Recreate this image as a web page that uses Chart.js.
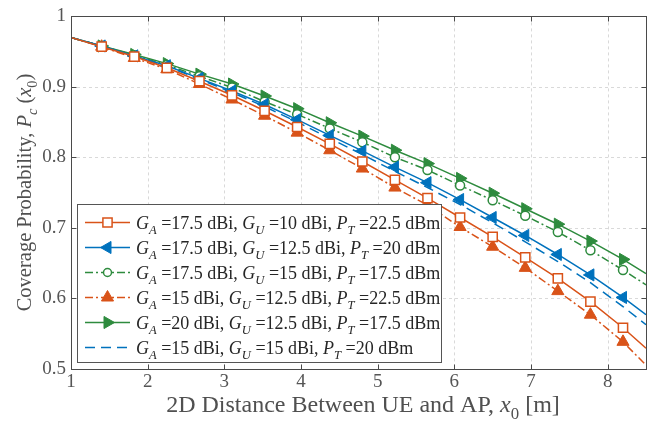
<!DOCTYPE html>
<html>
<head>
<meta charset="utf-8">
<script src="https://cdn.jsdelivr.net/npm/chart.js@4.4.0/dist/chart.umd.min.js"></script>
<style>
html,body{margin:0;padding:0;background:#fff;}
#wrap{width:657px;height:424px;}
</style>
</head>
<body>
<div id="wrap"><canvas id="myChart" width="657" height="424"></canvas></div>
<script>
// distance x0 [m]
var xDist = [1, 1.4, 1.825, 2.25, 2.675, 3.1, 3.525, 3.95, 4.375, 4.8, 5.225, 5.65, 6.075, 6.5, 6.925, 7.35, 7.775, 8.2, 8.5];

// coverage probability, one array per curve
var covA175U10P225 = [0.97, 0.957, 0.943, 0.927, 0.908, 0.888, 0.866, 0.843, 0.819, 0.794, 0.768, 0.742, 0.7145, 0.687, 0.658, 0.628, 0.595, 0.558, 0.529];
var covA175U125P20 = [0.97, 0.958, 0.944, 0.930, 0.912, 0.894, 0.875, 0.8535, 0.831, 0.809, 0.786, 0.764, 0.740, 0.7145, 0.689, 0.662, 0.633, 0.601, 0.5765];
var covA175U15P175 = [0.97, 0.958, 0.945, 0.931, 0.915, 0.899, 0.879, 0.861, 0.841, 0.8215, 0.800, 0.782, 0.760, 0.739, 0.717, 0.694, 0.668, 0.640, 0.619];
var covA15U125P225 = [0.97, 0.957, 0.941, 0.925, 0.904, 0.882, 0.859, 0.835, 0.810, 0.784, 0.757, 0.732, 0.701, 0.673, 0.643, 0.610, 0.5765, 0.538, 0.505];
var covA20U125P175 = [0.97, 0.958, 0.946, 0.933, 0.918, 0.904, 0.887, 0.869, 0.849, 0.830, 0.810, 0.791, 0.770, 0.749, 0.727, 0.705, 0.681, 0.655, 0.635];
var covA15U15P20 = [0.97, 0.958, 0.944, 0.929, 0.911, 0.892, 0.872, 0.850, 0.827, 0.804, 0.780, 0.757, 0.733, 0.707, 0.680, 0.652, 0.622, 0.588, 0.5624];

// legend parameters
var gainAP = ['17.5', '17.5', '17.5', '15', '20', '15'];
var gainUE = ['10', '12.5', '15', '12.5', '12.5', '15'];
var powerT = ['22.5', '20', '17.5', '22.5', '17.5', '20'];

// ticks
var xTicks = [1, 2, 3, 4, 5, 6, 7, 8];
var yTicks = [0.5, 0.6, 0.7, 0.8, 0.9, 1];

var RED = '#D95319', BLUE = '#0072BD', GREEN = '#2E8B3E';
var FONT = '"Liberation Serif", "DejaVu Serif", serif';

function pts(ys) {
    return ys.map(function (y, i) { return { x: xDist[i], y: y }; });
}
// markers everywhere but the two end points
function marks(r) {
    return xDist.map(function (x, i) { return (i == 0 || i == xDist.length - 1) ? 0 : r; });
}

function drawRich(ctx, segs, x, y, size, doDraw) {
    segs.forEach(function (s) {
        var sub = s[1].indexOf('s') >= 0, it = s[1].indexOf('i') >= 0;
        var fs = sub ? size * 0.7 : size;
        ctx.font = (it ? 'italic ' : '') + fs + 'px ' + FONT;
        if (doDraw) ctx.fillText(s[0], x, y + (sub ? size * 0.28 : 0));
        x += ctx.measureText(s[0]).width;
    });
    return x;
}

function legendSegs(i) {
    return [['G', 'i'], ['A', 'is'], [' =' + gainAP[i] + ' dBi, ', 'n'],
            ['G', 'i'], ['U', 'is'], [' =' + gainUE[i] + ' dBi, ', 'n'],
            ['P', 'i'], ['T', 'is'], [' =' + powerT[i] + ' dBm', 'n']];
}

var framePlugin = {
    id: 'frame',
    beforeDatasetsDraw: function (chart) {
        var ctx = chart.ctx, a = chart.chartArea, sx = chart.scales.x, sy = chart.scales.y;
        ctx.save();
        ctx.strokeStyle = '#d9d9d9';
        ctx.lineWidth = 1;
        ctx.setLineDash([3, 3]);
        xTicks.forEach(function (v) {
            if (v <= 1) return;
            var p = Math.round(sx.getPixelForValue(v)) + 0.5;
            ctx.beginPath(); ctx.moveTo(p, a.top); ctx.lineTo(p, a.bottom); ctx.stroke();
        });
        yTicks.forEach(function (v) {
            if (v <= 0.5 || v >= 1) return;
            var p = Math.round(sy.getPixelForValue(v)) + 0.5;
            ctx.beginPath(); ctx.moveTo(a.left, p); ctx.lineTo(a.right, p); ctx.stroke();
        });
        ctx.restore();
    },
    afterDatasetsDraw: function (chart) {
        var ctx = chart.ctx, a = chart.chartArea, sx = chart.scales.x, sy = chart.scales.y;
        ctx.save();
        ctx.strokeStyle = '#4a4a4a';
        ctx.lineWidth = 1;
        var L = Math.round(a.left) + 0.5, R = Math.round(a.right) + 0.5;
        var T = Math.round(a.top) + 0.5, B = Math.round(a.bottom) + 0.5;
        ctx.strokeRect(L, T, R - L, B - T);
        ctx.beginPath();
        xTicks.forEach(function (v) {
            var p = Math.round(sx.getPixelForValue(v)) + 0.5;
            ctx.moveTo(p, B); ctx.lineTo(p, B - 5);
            ctx.moveTo(p, T); ctx.lineTo(p, T + 5);
        });
        yTicks.forEach(function (v) {
            var p = Math.round(sy.getPixelForValue(v)) + 0.5;
            ctx.moveTo(L, p); ctx.lineTo(L + 5, p);
            ctx.moveTo(R, p); ctx.lineTo(R - 5, p);
        });
        ctx.stroke();
        ctx.restore();
    },
    afterDraw: function (chart) {
        var ctx = chart.ctx, a = chart.chartArea;
        ctx.save();
        ctx.fillStyle = '#505050';
        ctx.textBaseline = 'alphabetic';
        // x title
        var xt = [['2D Distance Between UE and AP, ', 'n'], ['x', 'i'], ['0', 's'], [' [m]', 'n']];
        var w = drawRich(ctx, xt, 0, 0, 24, false);
        drawRich(ctx, xt, 363 - w / 2, 412, 24, true);
        // y title
        var yt = [['Coverage Probability, ', 'n'], ['P', 'i'], ['c', 'is'], [' (', 'n'], ['x', 'i'], ['0', 's'], [')', 'n']];
        w = drawRich(ctx, yt, 0, 0, 20.5, false);
        ctx.translate(31, (a.top + a.bottom) / 2);
        ctx.rotate(-Math.PI / 2);
        drawRich(ctx, yt, -w / 2, 0, 20.5, true);
        ctx.restore();

        // legend
        ctx.save();
        var bx = 77.5, by = 204.5, bw = 364, bh = 158, rowH = 25;
        ctx.fillStyle = '#fff';
        ctx.fillRect(bx, by, bw, bh);
        ctx.strokeStyle = '#555';
        ctx.lineWidth = 1;
        ctx.strokeRect(bx, by, bw, bh);
        chart.data.datasets.forEach(function (ds, i) {
            var y = by + 18 + i * rowH;
            ctx.strokeStyle = ds.borderColor;
            ctx.lineWidth = ds.borderWidth;
            ctx.setLineDash(ds.borderDash || []);
            ctx.beginPath(); ctx.moveTo(85, y); ctx.lineTo(130, y); ctx.stroke();
            ctx.setLineDash([]);
            if (ds.pointStyle) {
                ctx.fillStyle = ds.pointBackgroundColor;
                ctx.strokeStyle = ds.pointBorderColor;
                ctx.lineWidth = ds.pointBorderWidth;
                Chart.helpers.drawPoint(ctx, {
                    pointStyle: ds.pointStyle, rotation: ds.pointRotation || 0,
                    radius: ds.legendRadius, borderWidth: ds.pointBorderWidth
                }, 107.5, y);
            }
            ctx.fillStyle = '#262626';
            drawRich(ctx, legendSegs(i), 136, y + 6, 18, true);
        });
        ctx.restore();
    }
};

var myChart = document.getElementById('myChart').getContext('2d');

new Chart(myChart, {
    type: 'line',
    data: {
        datasets: [{
            data: pts(covA175U10P225),
            borderColor: RED, borderWidth: 1.5,
            pointStyle: 'rect', pointRadius: marks(6.5), legendRadius: 6.5,
            pointBackgroundColor: '#fff', pointBorderColor: RED, pointBorderWidth: 1.5
        }, {
            data: pts(covA175U125P20),
            borderColor: BLUE, borderWidth: 1.5,
            pointStyle: 'triangle', pointRotation: -90, pointRadius: marks(7), legendRadius: 7,
            pointBackgroundColor: BLUE, pointBorderColor: BLUE, pointBorderWidth: 1
        }, {
            data: pts(covA175U15P175),
            borderColor: GREEN, borderWidth: 1.5, borderDash: [8, 3, 2, 3],
            pointStyle: 'circle', pointRadius: marks(4.5), legendRadius: 4,
            pointBackgroundColor: '#fff', pointBorderColor: GREEN, pointBorderWidth: 1.5
        }, {
            data: pts(covA15U125P225),
            borderColor: RED, borderWidth: 1.5, borderDash: [8, 3, 2, 3],
            pointStyle: 'triangle', pointRadius: marks(7), legendRadius: 7,
            pointBackgroundColor: RED, pointBorderColor: RED, pointBorderWidth: 1
        }, {
            data: pts(covA20U125P175),
            borderColor: GREEN, borderWidth: 1.5,
            pointStyle: 'triangle', pointRotation: 90, pointRadius: marks(7), legendRadius: 7,
            pointBackgroundColor: GREEN, pointBorderColor: GREEN, pointBorderWidth: 1
        }, {
            data: pts(covA15U15P20),
            borderColor: BLUE, borderWidth: 1.5, borderDash: [10, 6],
            pointStyle: false, pointRadius: 0
        }]
    },
    options: {
        responsive: false,
        animation: false,
        devicePixelRatio: 1,
        layout: { padding: { left: 0, right: 11, top: 13, bottom: 0 } },
        plugins: { legend: { display: false }, tooltip: { enabled: false } },
        elements: { line: { tension: 0 } },
        scales: {
            x: {
                type: 'linear', min: 1, max: 8.5,
                afterBuildTicks: function (s) { s.ticks = xTicks.map(function (v) { return { value: v }; }); },
                afterFit: function (s) { s.height = 55.4; },
                ticks: { color: '#555', font: { family: FONT, size: 19 }, padding: 2, maxRotation: 0 },
                grid: { display: false, drawTicks: false },
                border: { display: false }
            },
            y: {
                min: 0.5, max: 1,
                afterBuildTicks: function (s) { s.ticks = yTicks.map(function (v) { return { value: v }; }); },
                afterFit: function (s) { s.width = 71; },
                ticks: {
                    color: '#555', font: { family: FONT, size: 19 }, padding: 5,
                    callback: function (v) { return String(v); }
                },
                grid: { display: false, drawTicks: false },
                border: { display: false }
            }
        }
    },
    plugins: [framePlugin]
});
</script>
</body>
</html>
